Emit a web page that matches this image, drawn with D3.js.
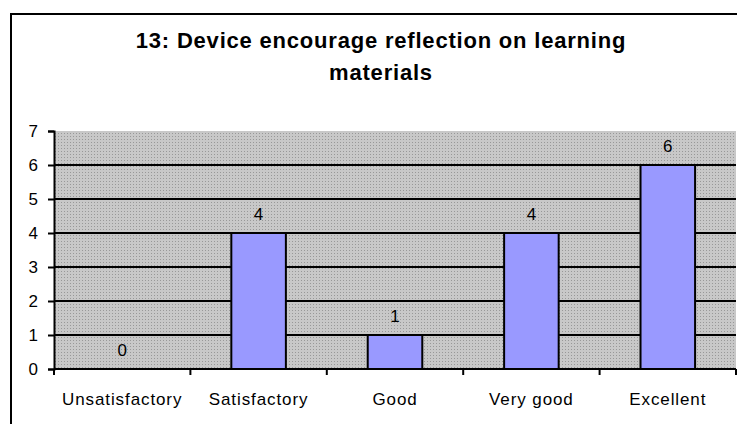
<!DOCTYPE html>
<html>
<head>
<meta charset="utf-8">
<script src="https://cdn.jsdelivr.net/npm/d3@7"></script>
<style>
  body { margin: 0; background: #fff; }
  text { font-family: "Liberation Sans", Arial, sans-serif; }
</style>
</head>
<body>
<script>
const categories = ["Unsatisfactory", "Satisfactory", "Good", "Very good", "Excellent"];
const values = [0, 4, 1, 4, 6];
const yTicks = [0, 1, 2, 3, 4, 5, 6, 7];
const titleLines = ["13: Device encourage reflection on learning", "materials"];

const W = 737, H = 424;
const plot = { left: 54, right: 736, top: 131, bottom: 369 };

const svg = d3.select("body").append("svg")
    .attr("width", W)
    .attr("height", H);

// dotted grey plot background
const defs = svg.append("defs");
const pat = defs.append("pattern")
    .attr("id", "dots")
    .attr("width", 3)
    .attr("height", 3)
    .attr("patternUnits", "userSpaceOnUse");
pat.append("rect").attr("width", 3).attr("height", 3).attr("fill", "#c8c8c8");
pat.append("rect").attr("x", 1).attr("y", 1).attr("width", 1).attr("height", 1).attr("fill", "#989898");

// outer chart frame
svg.append("rect")
    .attr("x", 11).attr("y", 14)
    .attr("width", W + 20).attr("height", H + 20)
    .attr("fill", "none")
    .attr("stroke", "#000")
    .attr("stroke-width", 2);

svg.append("text")
    .attr("text-anchor", "middle")
    .attr("font-weight", "bold")
    .attr("font-size", 22)
    .attr("letter-spacing", 0.8)
    .selectAll("tspan")
    .data(titleLines)
    .enter().append("tspan")
    .attr("x", 381)
    .attr("y", (d, i) => 48 + i * 32)
    .text(d => d);

const x = d3.scaleBand()
    .domain(categories)
    .range([plot.left, plot.right])
    .paddingInner(0.6)
    .paddingOuter(0.3);

const y = d3.scaleLinear()
    .domain([0, 7])
    .range([plot.bottom, plot.top]);

svg.append("rect")
    .attr("x", plot.left).attr("y", plot.top)
    .attr("width", plot.right - plot.left)
    .attr("height", plot.bottom - plot.top)
    .attr("fill", "url(#dots)");

// gridlines
svg.append("g")
    .selectAll("line")
    .data(yTicks.filter(d => d > 0 && d < 7))
    .enter().append("line")
    .attr("x1", plot.left).attr("x2", plot.right)
    .attr("y1", d => Math.round(y(d)))
    .attr("y2", d => Math.round(y(d)))
    .attr("stroke", "#000")
    .attr("stroke-width", 2);

// bars
svg.append("g")
    .selectAll("rect")
    .data(values)
    .enter().append("rect")
    .attr("x", (d, i) => x(categories[i]))
    .attr("y", d => y(d))
    .attr("width", x.bandwidth())
    .attr("height", d => y(0) - y(d))
    .attr("fill", "#9999ff")
    .attr("stroke", d => d > 0 ? "#000" : "none")
    .attr("stroke-width", 2);

// value labels
svg.append("g")
    .selectAll("text")
    .data(values)
    .enter().append("text")
    .attr("text-anchor", "middle")
    .attr("font-size", 17)
    .attr("x", (d, i) => x(categories[i]) + x.bandwidth() / 2)
    .attr("y", d => y(d) - 13)
    .text(d => d);

// y axis
const yAxis = svg.append("g")
    .attr("transform", `translate(${plot.left},0)`)
    .call(d3.axisLeft(y).tickValues(yTicks).tickSize(6).tickPadding(10).tickFormat(d3.format("d")));
yAxis.selectAll("text").attr("font-size", 17).attr("fill", "#000")
    .style("font-family", "'Liberation Sans', Arial, sans-serif");
yAxis.selectAll("line,path").attr("stroke", "#000").attr("stroke-width", 2);

// x axis: ticks at band boundaries
const xAxis = svg.append("g")
    .attr("transform", `translate(0,${plot.bottom})`);
xAxis.append("line")
    .attr("x1", plot.left).attr("x2", plot.right)
    .attr("stroke", "#000").attr("stroke-width", 2);
const bounds = d3.range(categories.length + 1).map(i => plot.left + (plot.right - plot.left) * i / categories.length);
xAxis.selectAll(".tk")
    .data(bounds)
    .enter().append("line")
    .attr("x1", d => d).attr("x2", d => d)
    .attr("y1", 0).attr("y2", 6)
    .attr("stroke", "#000").attr("stroke-width", 2);
xAxis.selectAll("text")
    .data(categories)
    .enter().append("text")
    .attr("text-anchor", "middle")
    .attr("font-size", 17)
    .attr("letter-spacing", 0.9)
    .attr("x", d => x(d) + x.bandwidth() / 2)
    .attr("y", 36)
    .text(d => d);
</script>
</body>
</html>
